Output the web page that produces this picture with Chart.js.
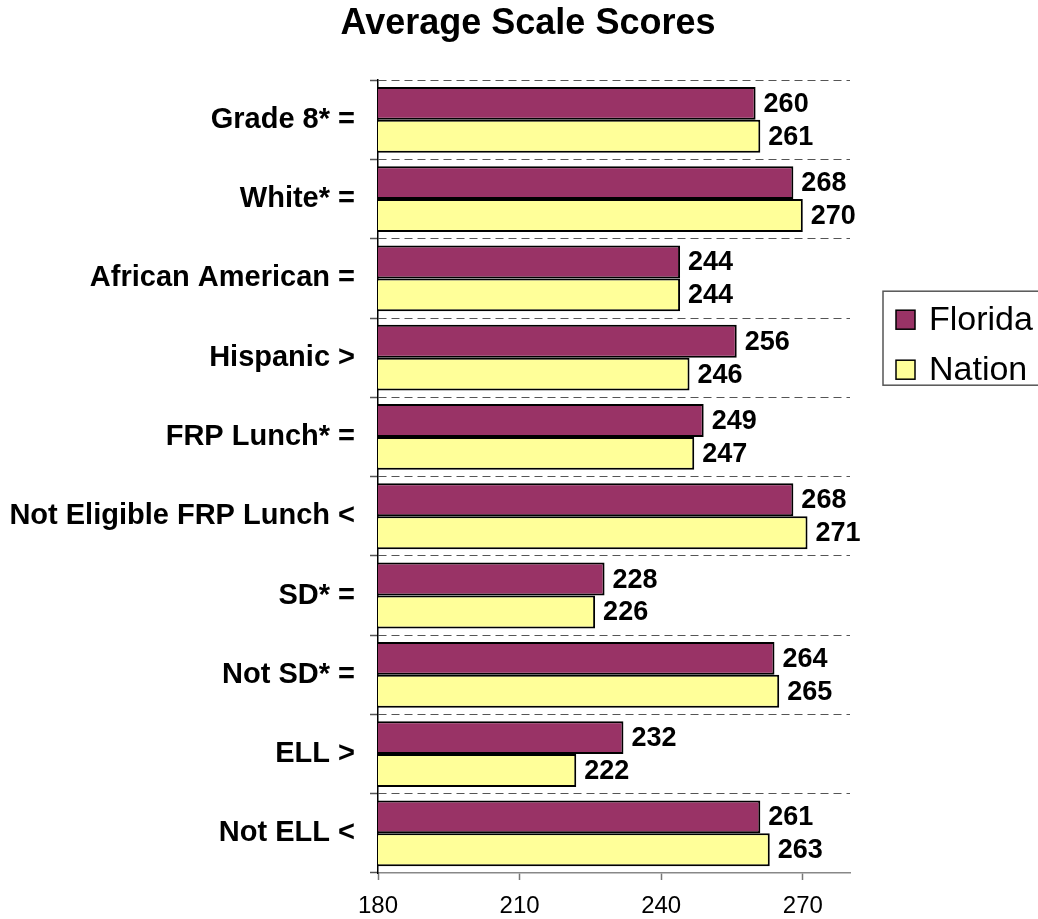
<!DOCTYPE html>
<html>
<head>
<meta charset="utf-8">
<title>Average Scale Scores</title>
<script src="https://cdn.jsdelivr.net/npm/chart.js"></script>
<style>
	body { margin: 0; background: #fff; }
	#grafico { display: block; }
</style>
</head>
<body>
<canvas id="grafico" width="1038" height="919"></canvas>
<script>
var categorias = ["Grade 8* =", "White* =", "African American =", "Hispanic >", "FRP Lunch* =",
	"Not Eligible FRP Lunch <", "SD* =", "Not SD* =", "ELL >", "Not ELL <"];
var florida = [260, 268, 244, 256, 249, 268, 228, 264, 232, 261];
var nation = [261, 270, 244, 246, 247, 271, 226, 265, 222, 263];
var nomesSeries = ["Florida", "Nation"];
var escalaMin = 180;
var escalaMax = 280;
var passo = 30;

var FONTE = "'Liberation Sans', Arial, sans-serif";
Chart.defaults.color = "#000";
Chart.defaults.font.family = FONTE;

// valores ao lado de cada barra
var rotulos = {
	id: "rotulos",
	afterDatasetsDraw: function(chart){
		var ctx = chart.ctx;
		ctx.save();
		ctx.font = "bold 27px " + FONTE;
		ctx.fillStyle = "#000";
		ctx.textAlign = "left";
		ctx.textBaseline = "middle";
		chart.data.datasets.forEach(function(ds, i){
			var meta = chart.getDatasetMeta(i);
			meta.data.forEach(function(barra, j){
				ctx.fillText(ds.data[j], barra.x + 8, barra.y + 1);
			});
		});
		ctx.restore();
	}
};

// legenda com moldura, do lado direito
var legenda = {
	id: "legenda",
	afterLayout: function(chart){
		// titulo um pouco deslocado para a direita, como no original
		if (chart.titleBlock) chart.titleBlock.left += 18;
	},
	afterDraw: function(chart){
		var ctx = chart.ctx;
		var area = chart.chartArea;
		var x = area.right + 33;
		var y = area.top + 211;
		ctx.save();
		ctx.strokeStyle = "#555";
		ctx.lineWidth = 1.5;
		ctx.strokeRect(x, y, 200, 94);
		ctx.font = "34px " + FONTE;
		ctx.textBaseline = "middle";
		chart.data.datasets.forEach(function(ds, i){
			var cy = y + 28 + i * 50;
			ctx.fillStyle = ds.backgroundColor;
			ctx.fillRect(x + 13, cy - 9, 19, 19);
			ctx.strokeStyle = "#000";
			ctx.lineWidth = 1.5;
			ctx.strokeRect(x + 13, cy - 9, 19, 19);
			ctx.fillStyle = "#000";
			ctx.fillText(ds.label, x + 46, cy + 1);
		});
		ctx.restore();
	}
};

var ctx = document.getElementById("grafico");
var chartGraph = new Chart(ctx, {
	type: "bar",
	data: {
		labels: categorias,
		datasets: [{
			label: nomesSeries[0],
			data: florida,
			backgroundColor: "#993366",
			borderColor: "#000",
			borderWidth: 2,
			borderSkipped: false
		}, {
			label: nomesSeries[1],
			data: nation,
			backgroundColor: "#FFFF99",
			borderColor: "#000",
			borderWidth: 2,
			borderSkipped: false
		}]
	},
	options: {
		indexAxis: "y",
		responsive: false,
		animation: false,
		datasets: {
			bar: { categoryPercentage: 0.83, barPercentage: 1.0 }
		},
		layout: {
			padding: { left: 0, right: 0, top: 0, bottom: 0 }
		},
		plugins: {
			legend: { display: false },
			tooltip: { enabled: false },
			title: {
				display: true,
				text: "Average Scale Scores",
				color: "#000",
				font: { size: 36, weight: "bold" },
				padding: { top: 2, bottom: 35 }
			}
		},
		scales: {
			x: {
				type: "linear",
				min: escalaMin,
				max: escalaMax,
				afterFit: function(scale){ scale.height = 46; },
				ticks: {
					stepSize: passo,
					includeBounds: false,
					padding: 12,
					color: "#000",
					font: { size: 24 }
				},
				grid: {
					drawOnChartArea: false,
					drawTicks: true,
					tickLength: 7,
					tickColor: "#777",
					tickWidth: 1.5
				},
				border: { display: true, color: "#888", width: 1.5 }
			},
			y: {
				type: "category",
				afterFit: function(scale){ scale.width = 378; },
				ticks: {
					padding: 15,
					color: "#000",
					font: { size: 29, weight: "bold" }
				},
				grid: {
					offset: true,
					color: "#555",
					lineWidth: 1,
					drawTicks: true,
					tickLength: 8,
					tickColor: "#555",
					tickWidth: 1.5
				},
				border: { display: true, color: "#000", width: 1.5, dash: [8, 5] }
			},
			// eixo vazio so para reservar o espaco da legenda
			espaco: {
				type: "linear",
				position: "right",
				display: true,
				afterFit: function(scale){ scale.width = 188; },
				ticks: { display: false },
				grid: { display: false },
				border: { display: false }
			}
		}
	},
	plugins: [rotulos, legenda]
});
</script>
</body>
</html>
